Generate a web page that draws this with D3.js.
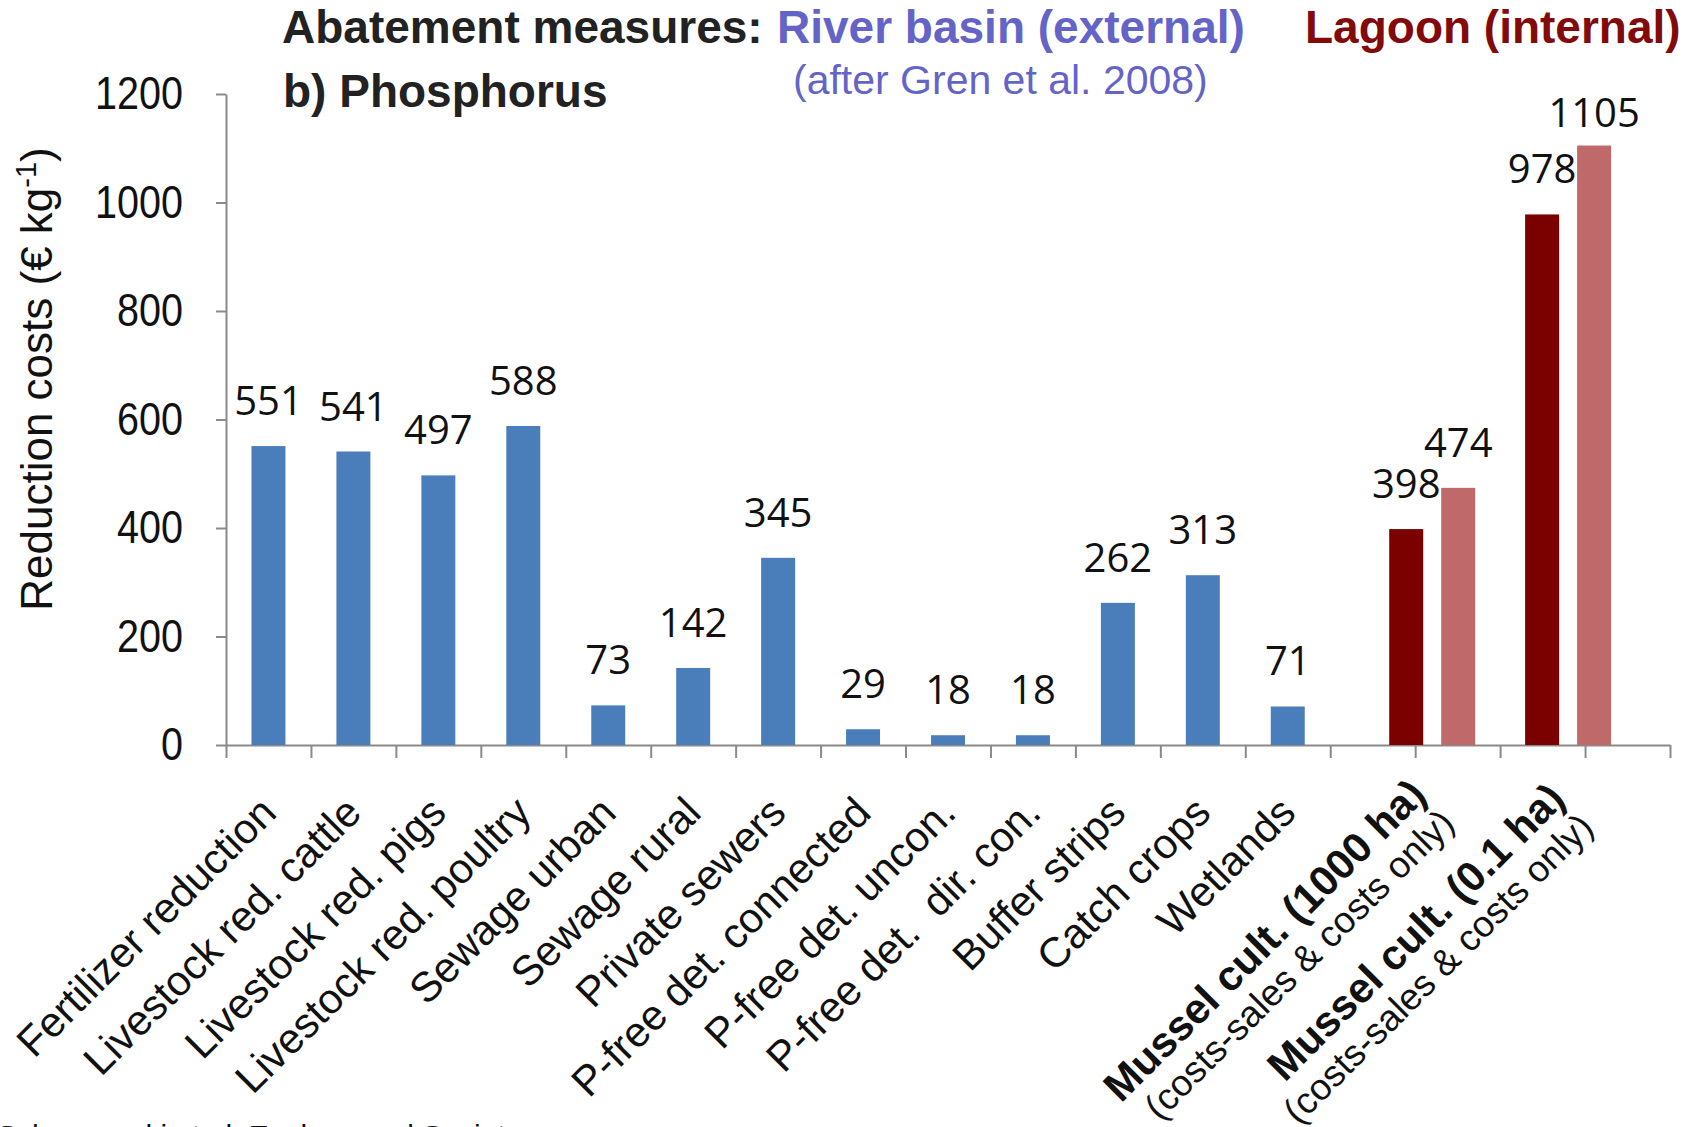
<!DOCTYPE html>
<html>
<head>
<meta charset="utf-8">
<script src="https://cdn.jsdelivr.net/npm/d3@7"></script>
<style>
  html, body { margin: 0; padding: 0; background: #fff; }
  svg { display: block; }
</style>
</head>
<body>
<svg id="chart" width="1688" height="1127"></svg>
<script>
// ---- data ----
const riverCategories = [
  "Fertilizer reduction", "Livestock red. cattle", "Livestock red. pigs",
  "Livestock red. poultry", "Sewage urban", "Sewage rural", "Private sewers",
  "P-free det. connected", "P-free det. uncon.", "P-free det.  dir. con.",
  "Buffer strips", "Catch crops", "Wetlands"
];
const riverValues = [551, 541, 497, 588, 73, 142, 345, 29, 18, 18, 262, 313, 71];

const lagoonCategories = ["Mussel cult. (1000 ha)", "Mussel cult. (0.1 ha)"];
const lagoonSubLabel = "(costs-sales & costs only)";
const lagoonSeries = ["costs-sales", "costs only"];
const lagoonCostsSales = [398, 978];
const lagoonCostsOnly = [474, 1105];

const yTicks = [0, 200, 400, 600, 800, 1000, 1200];
const slotCount = 17;

// ---- layout ----
const svg = d3.select("#chart");
const x0 = 226, x1 = 1670, yTop = 94, yBot = 745;

const y = d3.scaleLinear().domain([0, 1200]).range([yBot, yTop]);

const x = d3.scaleBand()
  .domain(d3.range(slotCount))
  .range([x0, x1])
  .paddingInner(0.6)
  .paddingOuter(0.3);
const step = x.step();

const xLagoon = d3.scaleBand()
  .domain(lagoonCategories)
  .range([x0 + 13.4 * step, x0 + 16.6 * step]);

const xInner = d3.scaleBand()
  .domain(lagoonSeries)
  .range([16, 120])
  .paddingInner(0.346)
  .paddingOuter(0.173);

const colors = { river: "#4a7ebb", "costs-sales": "#7b0000", "costs only": "#c0696a" };
const axisColor = "#8a8a8a";

// ---- axes ----
const yAxis = d3.axisLeft(y).tickValues(yTicks).tickFormat(d3.format("d"))
  .tickSize(10).tickPadding(33).tickSizeOuter(0);
const gy = svg.append("g").attr("transform", `translate(${x0},0)`).call(yAxis);
gy.selectAll("path,line").attr("stroke", axisColor).attr("stroke-width", 2);
gy.selectAll("text")
  .attr("fill", "#111")
  .style("font-family", "'Liberation Sans',Arial,sans-serif")
  .style("font-size", "46px")
  .attr("textLength", function () { return this.textContent.length * 22; })
  .attr("lengthAdjust", "spacingAndGlyphs");

const xb = d3.scaleLinear().domain([0, slotCount]).range([x0, x1]);
const xAxis = d3.axisBottom(xb).tickValues(d3.range(slotCount + 1)).tickFormat("").tickSize(13).tickSizeOuter(0);
const gx = svg.append("g").attr("transform", `translate(0,${yBot})`).call(xAxis);
gx.selectAll("path,line").attr("stroke", axisColor).attr("stroke-width", 2);

// ---- river bars ----
const riverData = riverCategories.map((c, i) => ({ c, i, v: riverValues[i] }));
svg.append("g").selectAll("rect").data(riverData).join("rect")
  .attr("x", d => x(d.i))
  .attr("width", x.bandwidth())
  .attr("y", d => y(d.v))
  .attr("height", d => y(0) - y(d.v))
  .attr("fill", colors.river);

// ---- lagoon bars ----
const lagoonData = [];
lagoonCategories.forEach((c, g) => {
  lagoonData.push({ c, s: "costs-sales", v: lagoonCostsSales[g] });
  lagoonData.push({ c, s: "costs only", v: lagoonCostsOnly[g] });
});
svg.append("g").selectAll("rect").data(lagoonData).join("rect")
  .attr("x", d => xLagoon(d.c) + xInner(d.s))
  .attr("width", xInner.bandwidth())
  .attr("y", d => y(d.v))
  .attr("height", d => y(0) - y(d.v))
  .attr("fill", d => colors[d.s]);

// ---- value labels ----
const labelFont = "'Open Sans','Noto Sans',sans-serif";
function labelY(v) { return Math.max(y(v) - 31, y(1200) + 33); }
svg.append("g").selectAll("text").data(riverData).join("text")
  .attr("x", d => x(d.i) + x.bandwidth() / 2)
  .attr("y", d => labelY(d.v))
  .attr("text-anchor", "middle")
  .style("font-family", labelFont).style("font-size", "40px").attr("fill", "#111")
  .text(d => d.v);
svg.append("g").selectAll("text").data(lagoonData).join("text")
  .attr("x", d => xLagoon(d.c) + xInner(d.s) + xInner.bandwidth() / 2)
  .attr("y", d => labelY(d.v))
  .attr("text-anchor", "middle")
  .style("font-family", labelFont).style("font-size", "40px").attr("fill", "#111")
  .text(d => d.v);

// ---- category labels ----
const catFont = "'Liberation Sans',Arial,sans-serif";
const ax = 10, ay = 815;
svg.append("g").selectAll("text").data(riverData).join("text")
  .attr("transform", d => `translate(${x(d.i) + x.bandwidth() / 2 + ax},${ay}) rotate(-45)`)
  .attr("text-anchor", "end")
  .style("font-family", catFont).style("font-size", "42px").attr("fill", "#111")
  .style("white-space", "pre")
  .text(d => d.c);

const lg = svg.append("g").selectAll("g").data(lagoonCategories).join("g")
  .attr("transform", (d, i) => `translate(${xLagoon(d) + xLagoon.bandwidth() / 2 + ax + 3 * i},${ay - 4 + 4 * i}) rotate(-45)`);
lg.append("text")
  .attr("y", -20).attr("text-anchor", "end")
  .style("font-family", catFont).style("font-size", "42px").style("font-weight", "bold").attr("fill", "#111")
  .text(d => d);
lg.append("text")
  .attr("y", 20).attr("text-anchor", "end")
  .style("font-family", catFont).style("font-size", "37px").attr("fill", "#111")
  .text(lagoonSubLabel);

// ---- y title ----
const yt = svg.append("text")
  .attr("transform", "translate(52,379) rotate(-90)")
  .attr("text-anchor", "middle")
  .style("font-family", catFont).style("font-size", "44px").attr("fill", "#111");
yt.append("tspan").text("Reduction costs (€ kg");
yt.append("tspan").attr("dy", -16).style("font-size", "29px").text("-1");
yt.append("tspan").attr("dy", 16).text(")");

// ---- titles ----
const tFont = "'Liberation Sans',Arial,sans-serif";
svg.append("text").attr("x", 282).attr("y", 43)
  .style("font-family", tFont).style("font-size", "46px").style("font-weight", "bold").attr("fill", "#222")
  .text("Abatement measures:");
svg.append("text").attr("x", 777).attr("y", 43)
  .style("font-family", tFont).style("font-size", "46px").style("font-weight", "bold").attr("fill", "#6464c8")
  .text("River basin (external)");
svg.append("text").attr("x", 1305).attr("y", 43)
  .style("font-family", tFont).style("font-size", "46px").style("font-weight", "bold").attr("fill", "#820a0a")
  .text("Lagoon (internal)");
svg.append("text").attr("x", 793).attr("y", 94)
  .style("font-family", tFont).style("font-size", "41px").attr("fill", "#6464c8")
  .text("(after Gren et al. 2008)");
svg.append("text").attr("x", 283).attr("y", 107)
  .style("font-family", tFont).style("font-size", "46px").style("font-weight", "bold").attr("fill", "#222")
  .text("b) Phosphorus");

// ---- cropped footer (only the top of the glyphs shows in the reference) ----
svg.append("text").attr("x", -3).attr("y", 1146)
  .style("font-family", tFont).style("font-size", "30px").attr("fill", "#111")
  .text("Schernewski et al. Ecology and Society");
</script>
</body>
</html>
